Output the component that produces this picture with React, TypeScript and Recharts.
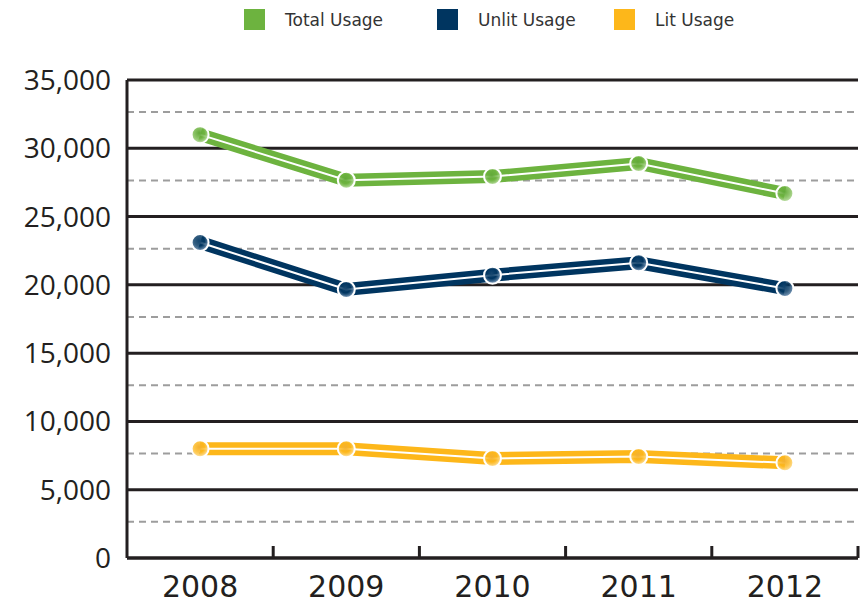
import React from "react";
import {
  LineChart,
  Line,
  XAxis,
  YAxis,
  CartesianGrid,
  Legend,
  ReferenceLine,
} from "recharts";

const years = ["2008", "2009", "2010", "2011", "2012"];
const totalUsage = [31000, 27660, 27930, 28890, 26690];
const unlitUsage = [23100, 19660, 20710, 21620, 19730];
const litUsage = [8000, 8000, 7290, 7430, 6970];
const yTicks = [0, 5000, 10000, 15000, 20000, 25000, 30000, 35000];
const dashedLines = [2650, 7650, 12650, 17650, 22650, 27650, 32650];

const series = [
  { key: "total", name: "Total Usage", color: "#6db33f", light: "#c4e2ae", dark: "#62a93a" },
  { key: "unlit", name: "Unlit Usage", color: "#003560", light: "#8aa6c4", dark: "#15466f" },
  { key: "lit", name: "Lit Usage", color: "#fdb71a", light: "#fde4ab", dark: "#f2b032" },
];

const data = years.map((y, i) => ({
  year: y,
  total: totalUsage[i],
  unlit: unlitUsage[i],
  lit: litUsage[i],
}));

const W = 867;
const H = 604;
const plotLeft = 127;
const plotRight = 858;
const band = (plotRight - plotLeft) / years.length;
const ink = "#231f20";

function XTick(props: any) {
  const { x, y, payload } = props;
  return (
    <g>
      <line x1={x + band / 2} x2={x + band / 2} y1={y - 12} y2={y} stroke={ink} strokeWidth={3} />
      <text
        x={x}
        y={y + 39}
        textAnchor="middle"
        fontFamily="DejaVu Sans"
        fontSize={30}
        fill={ink}
      >
        {payload.value}
      </text>
    </g>
  );
}

function makeDot(key: string) {
  return (props: any) => {
    const { cx, cy, index } = props;
    if (cx == null || cy == null) return null;
    return (
      <circle
        key={`${key}-${index}`}
        cx={cx}
        cy={cy}
        r={8.5}
        fill={`url(#grad-${key})`}
        stroke="#ffffff"
        strokeWidth={2}
      />
    );
  };
}

function LegendBox() {
  const widths = [193, 177, 150];
  return (
    <div
      style={{
        display: "flex",
        paddingLeft: 244,
        paddingTop: 9,
        height: 31,
        fontFamily: "DejaVu Sans",
        fontSize: 17,
        color: "#333333",
      }}
    >
      {series.map((s, i) => (
        <div key={s.key} style={{ display: "flex", alignItems: "center", width: widths[i], height: 21 }}>
          <span style={{ width: 21, height: 21, background: s.color, marginRight: 20, display: "inline-block" }} />
          <span>{s.name}</span>
        </div>
      ))}
    </div>
  );
}

export default function App() {
  return (
    <div style={{ position: "absolute", left: 0, top: 0, width: W, height: H, background: "#fff" }}>
      <LineChart
        width={W}
        height={H}
        data={data}
        margin={{ top: 40, right: W - plotRight, bottom: 0, left: 0 }}
      >
        <defs>
          {series.map((s) => (
            <radialGradient key={s.key} id={`grad-${s.key}`} cx="45%" cy="40%" r="60%">
              <stop offset="0%" stopColor={s.dark} />
              <stop offset="50%" stopColor={s.color} stopOpacity={0.8} />
              <stop offset="100%" stopColor={s.light} />
            </radialGradient>
          ))}
        </defs>
        <Legend
          verticalAlign="top"
          content={() => <LegendBox />}
          wrapperStyle={{ top: 0, left: 0, width: W, height: 40 }}
        />
        <CartesianGrid vertical={false} stroke={ink} strokeWidth={3} />
        {dashedLines.map((v) => (
          <ReferenceLine
            key={v}
            y={v}
            stroke="#9d9d9d"
            strokeWidth={2}
            strokeDasharray="7 5"
          />
        ))}
        <XAxis
          dataKey="year"
          height={46}
          tickSize={0}
          tickMargin={0}
          padding={{ left: band / 2, right: band / 2 }}
          axisLine={{ stroke: ink, strokeWidth: 3 }}
          tickLine={false}
          tick={<XTick />}
          interval={0}
        />
        <YAxis
          width={plotLeft}
          domain={[0, 35000]}
          ticks={yTicks}
          tickSize={0}
          tickMargin={16}
          tickLine={false}
          axisLine={{ stroke: ink, strokeWidth: 3 }}
          tickFormatter={(v) => v.toLocaleString("en-US")}
          tick={{ fill: ink, fontSize: 28, fontFamily: "Open Sans" }}
        />
        {series.map((s) => [
          <Line
            key={`${s.key}-band`}
            dataKey={s.key}
            name={s.name}
            type="linear"
            stroke={s.color}
            strokeWidth={13}
            dot={false}
            activeDot={false}
            legendType="none"
            isAnimationActive={false}
          />,
          <Line
            key={`${s.key}-core`}
            dataKey={s.key}
            type="linear"
            stroke="#ffffff"
            strokeWidth={2}
            dot={makeDot(s.key)}
            activeDot={false}
            legendType="none"
            isAnimationActive={false}
          />,
        ])}
      </LineChart>
    </div>
  );
}
